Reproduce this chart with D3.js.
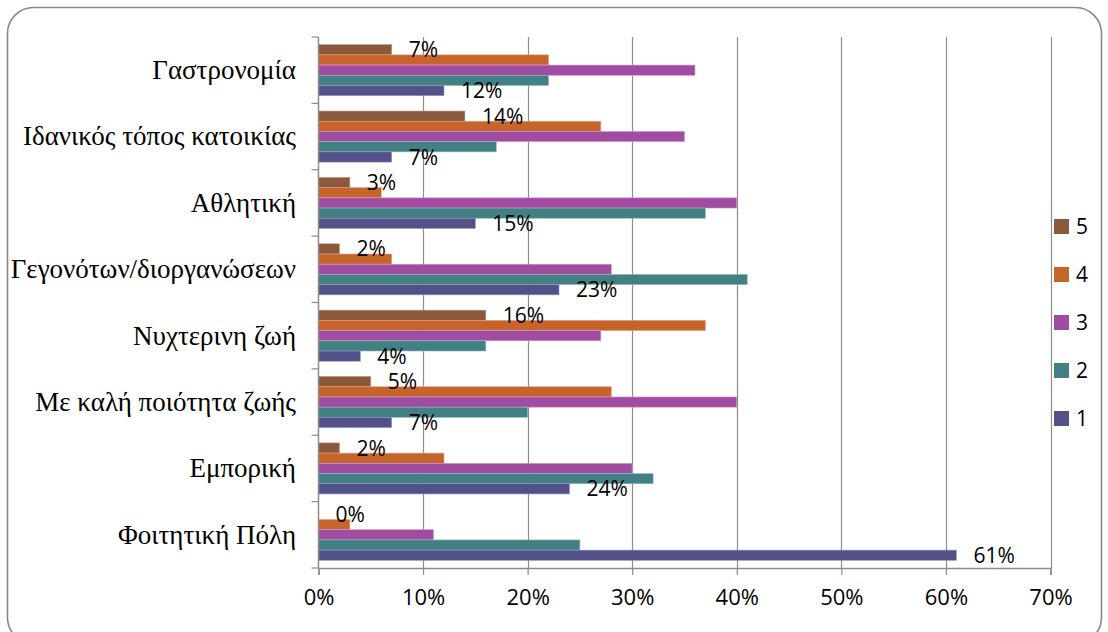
<!DOCTYPE html>
<html>
<head>
<meta charset="utf-8">
<script src="https://cdn.jsdelivr.net/npm/d3@7"></script>
<style>
body { margin: 0; background: #fff; }
</style>
</head>
<body>
<script>
// categories top to bottom, values in percent
var categories = ["Γαστρονομία", "Ιδανικός τόπος κατοικίας", "Αθλητική", "Γεγονότων/διοργανώσεων",
	"Νυχτερινη ζωή", "Με καλή ποιότητα ζωής", "Εμπορική", "Φοιτητική Πόλη"];
var s1 = [12, 7, 15, 23, 4, 7, 24, 61];
var s2 = [22, 17, 37, 41, 16, 20, 32, 25];
var s3 = [36, 35, 40, 28, 27, 40, 30, 11];
var s4 = [22, 27, 6, 7, 37, 28, 12, 3];
var s5 = [7, 14, 3, 2, 16, 5, 2, 0];
var seriesNames = ["5", "4", "3", "2", "1"];
var xTicks = [0, 10, 20, 30, 40, 50, 60, 70];
var labelled = ["5", "1"];

var seriesValues = {"1": s1, "2": s2, "3": s3, "4": s4, "5": s5};
var colors = {"5": "#8b5a3c", "4": "#c5652c", "3": "#a04ca1", "2": "#428084", "1": "#525289"};
var strokes = {"5": "#b89482", "4": "#e7a07c", "3": "#d49ad6", "2": "#8fbcbf", "1": "#9595c0"};

var W = 1108, H = 632;
var margin = {top: 37, right: 58, bottom: 64, left: 318.5};

var svg = d3.select("body").append("svg")
	.attr("width", W)
	.attr("height", H);

// chart border (bottom edge runs past the picture)
svg.append("rect")
	.attr("x", 7.5).attr("y", 7.5)
	.attr("width", 1094).attr("height", 636)
	.attr("rx", 26).attr("ry", 26)
	.attr("fill", "#fff")
	.attr("stroke", "#878787")
	.attr("stroke-width", 1.6);

var x = d3.scaleLinear().domain([0, 70]).range([margin.left, W - margin.right + 0.5]);
var y = d3.scaleBand().domain(categories).range([margin.top, H - margin.bottom]).padding(0);
var yInner = d3.scaleBand().domain(seriesNames).range([0, y.bandwidth()]).paddingInner(0).paddingOuter(0.75);

// gridlines
svg.append("g")
	.selectAll("line")
	.data(xTicks.slice(1))
	.enter().append("line")
	.attr("x1", function(d) { return Math.round(x(d)) + 0.5; })
	.attr("x2", function(d) { return Math.round(x(d)) + 0.5; })
	.attr("y1", margin.top)
	.attr("y2", H - margin.bottom)
	.attr("stroke", "#8c8c8c")
	.attr("stroke-width", 1.2);

// bars
var groups = svg.selectAll(".grp")
	.data(categories)
	.enter().append("g")
	.attr("class", "grp")
	.attr("transform", function(d) { return "translate(0," + y(d) + ")"; });

groups.selectAll("rect")
	.data(function(c, i) {
		return seriesNames.map(function(s) { return {s: s, v: seriesValues[s][i]}; });
	})
	.enter().append("rect")
	.attr("x", x(0))
	.attr("y", function(d) { return yInner(d.s); })
	.attr("height", yInner.bandwidth())
	.attr("width", function(d) { return x(d.v) - x(0); })
	.attr("fill", function(d) { return colors[d.s]; })
	.attr("stroke", function(d) { return d.v > 0 ? strokes[d.s] : "none"; })
	.attr("stroke-width", 0.6);

// data labels for series 5 and 1
groups.selectAll("text.lbl")
	.data(function(c, i) {
		return labelled.map(function(s) { return {s: s, v: seriesValues[s][i]}; });
	})
	.enter().append("text")
	.attr("class", "lbl")
	.attr("x", function(d) { return x(d.v) + 17; })
	.attr("y", function(d) { return yInner(d.s) + yInner.bandwidth() / 2; })
	.attr("dy", "0.36em")
	.style("font-family", "'Open Sans', sans-serif")
	.style("font-size", "21px")
	.attr("fill", "#000")
	.text(function(d) { return d.v + "%"; });

// x axis
var xAxis = svg.append("g")
	.attr("transform", "translate(0," + (H - margin.bottom) + ")")
	.call(d3.axisBottom(x).tickValues(xTicks).tickSize(7).tickPadding(14)
		.tickFormat(function(d) { return d + "%"; }));
xAxis.select(".domain").attr("stroke", "#8c8c8c").attr("stroke-width", 1.5);
xAxis.selectAll(".tick line").attr("stroke", "#8c8c8c").attr("stroke-width", 1.2);
xAxis.selectAll(".tick text")
	.style("font-family", "'Open Sans', sans-serif")
	.style("font-size", "22px")
	.attr("fill", "#000");

// y axis line and ticks at category boundaries
var bounds = categories.map(function(c) { return y(c); }).concat([y(categories[categories.length - 1]) + y.bandwidth()]);
svg.append("line")
	.attr("x1", x(0)).attr("x2", x(0))
	.attr("y1", margin.top).attr("y2", H - margin.bottom)
	.attr("stroke", "#8c8c8c").attr("stroke-width", 1.5);
svg.append("g").selectAll("line")
	.data(bounds)
	.enter().append("line")
	.attr("x1", x(0) - 7).attr("x2", x(0))
	.attr("y1", function(d) { return d; }).attr("y2", function(d) { return d; })
	.attr("stroke", "#8c8c8c").attr("stroke-width", 1.2);

// category labels
svg.append("g").selectAll("text")
	.data(categories)
	.enter().append("text")
	.attr("x", 296)
	.attr("y", function(d) { return y(d) + y.bandwidth() / 2; })
	.attr("dy", "0.33em")
	.attr("text-anchor", "end")
	.style("font-family", "'Liberation Serif', 'Times New Roman', serif")
	.style("font-size", "27px")
	.attr("fill", "#000")
	.text(function(d) { return d; });

// legend
var legend = svg.append("g").selectAll("g")
	.data(seriesNames)
	.enter().append("g")
	.attr("transform", function(d, i) { return "translate(1054," + (226.5 + i * 48) + ")"; });
legend.append("rect")
	.attr("x", 0).attr("y", -7.5)
	.attr("width", 15).attr("height", 15)
	.attr("fill", function(d) { return colors[d]; });
legend.append("text")
	.attr("x", 22).attr("y", 0)
	.attr("dy", "0.36em")
	.style("font-family", "'Open Sans', sans-serif")
	.style("font-size", "21px")
	.attr("fill", "#000")
	.text(function(d) { return d; });
</script>
</body>
</html>
